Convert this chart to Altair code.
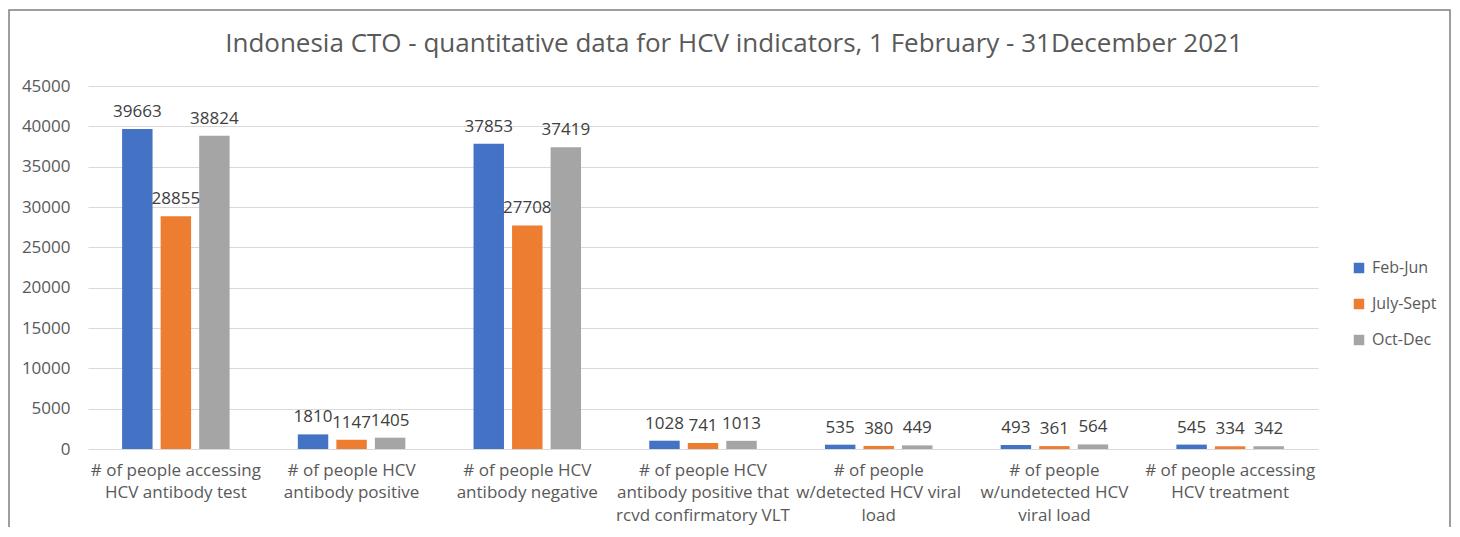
import altair as alt
import pandas as pd

categories = [
    "# of people accessing|HCV antibody test",
    "# of people HCV|antibody positive",
    "# of people HCV|antibody negative",
    "# of people HCV|antibody positive that|rcvd confirmatory VLT",
    "# of people|w/detected HCV viral|load",
    "# of people|w/undetected HCV|viral load",
    "# of people accessing|HCV treatment",
]
series = ["Feb-Jun", "July-Sept", "Oct-Dec"]
feb_jun = [39663, 1810, 37853, 1028, 535, 493, 545]
july_sept = [28855, 1147, 27708, 741, 380, 361, 334]
oct_dec = [38824, 1405, 37419, 1013, 449, 564, 342]
colors = ["#4472C4", "#ED7D31", "#A5A5A5"]
y_ticks = list(range(0, 45001, 5000))

rows = []
for s, vals in zip(series, [feb_jun, july_sept, oct_dec]):
    for c, v in zip(categories, vals):
        rows.append({"cat": c, "series": s, "value": v})
df = pd.DataFrame(rows)

FONT = "Open Sans"

x = alt.X("cat:N", sort=categories, title=None,
          scale=alt.Scale(paddingInner=0, paddingOuter=0),
          axis=alt.Axis(labelExpr="split(datum.label, '|')", labelAngle=0,
                        labelFontSize=17, labelColor="#595959", labelFont=FONT,
                        labelLineHeight=22.5, labelPadding=13, ticks=False,
                        domain=False, labelLimit=300))
xo = alt.XOffset("series:N", sort=series,
                 scale=alt.Scale(paddingInner=0.21, paddingOuter=0.885))
y = alt.Y("value:Q", title=None,
          scale=alt.Scale(domain=[0, 45000], nice=False),
          axis=alt.Axis(values=y_ticks, format="d", labelFontSize=17,
                        labelColor="#595959", labelFont=FONT, labelPadding=18,
                        ticks=False, domain=False,
                        gridColor="#D9D9D9", gridWidth=1.2))
color = alt.Color("series:N", sort=series,
                  scale=alt.Scale(domain=series, range=colors),
                  legend=alt.Legend(title=None, orient="none", legendX=1263,
                                    legendY=174, symbolType="square",
                                    symbolSize=110, symbolStrokeWidth=0,
                                    labelFontSize=16, labelFont=FONT,
                                    labelColor="#595959", rowPadding=20,
                                    labelOffset=5))

bars = alt.Chart(df).mark_bar().encode(x=x, xOffset=xo, y=y, color=color)
labels = alt.Chart(df).mark_text(baseline="bottom", dy=-8, fontSize=17,
                                 font=FONT, color="#404040").encode(
    x=alt.X("cat:N", sort=categories), xOffset=alt.XOffset("series:N", sort=series),
    y="value:Q", text="value:Q")

frame = alt.Chart(pd.DataFrame({"a": [0]})).mark_rect(
    fill=None, stroke="#7F7F7F", strokeWidth=1.5).encode(
    x=alt.value(-79), x2=alt.value(1362), y=alt.value(-76), y2=alt.value(480))

chart = alt.layer(frame, bars, labels).properties(
    width=1230, height=363,
    padding={"left": 80, "top": 78, "right": 134, "bottom": 78},
    autosize=alt.AutoSizeParams(type="none"),
    title=alt.TitleParams(
        "Indonesia CTO - quantitative data for HCV indicators, 1 February - 31December 2021",
        fontSize=26, font=FONT, fontWeight="normal", color="#595959",
        anchor="middle", dx=31, offset=-48),
).configure_view(stroke=None)

chart.save("out.html", embed_options={"renderer": "svg", "actions": False})
